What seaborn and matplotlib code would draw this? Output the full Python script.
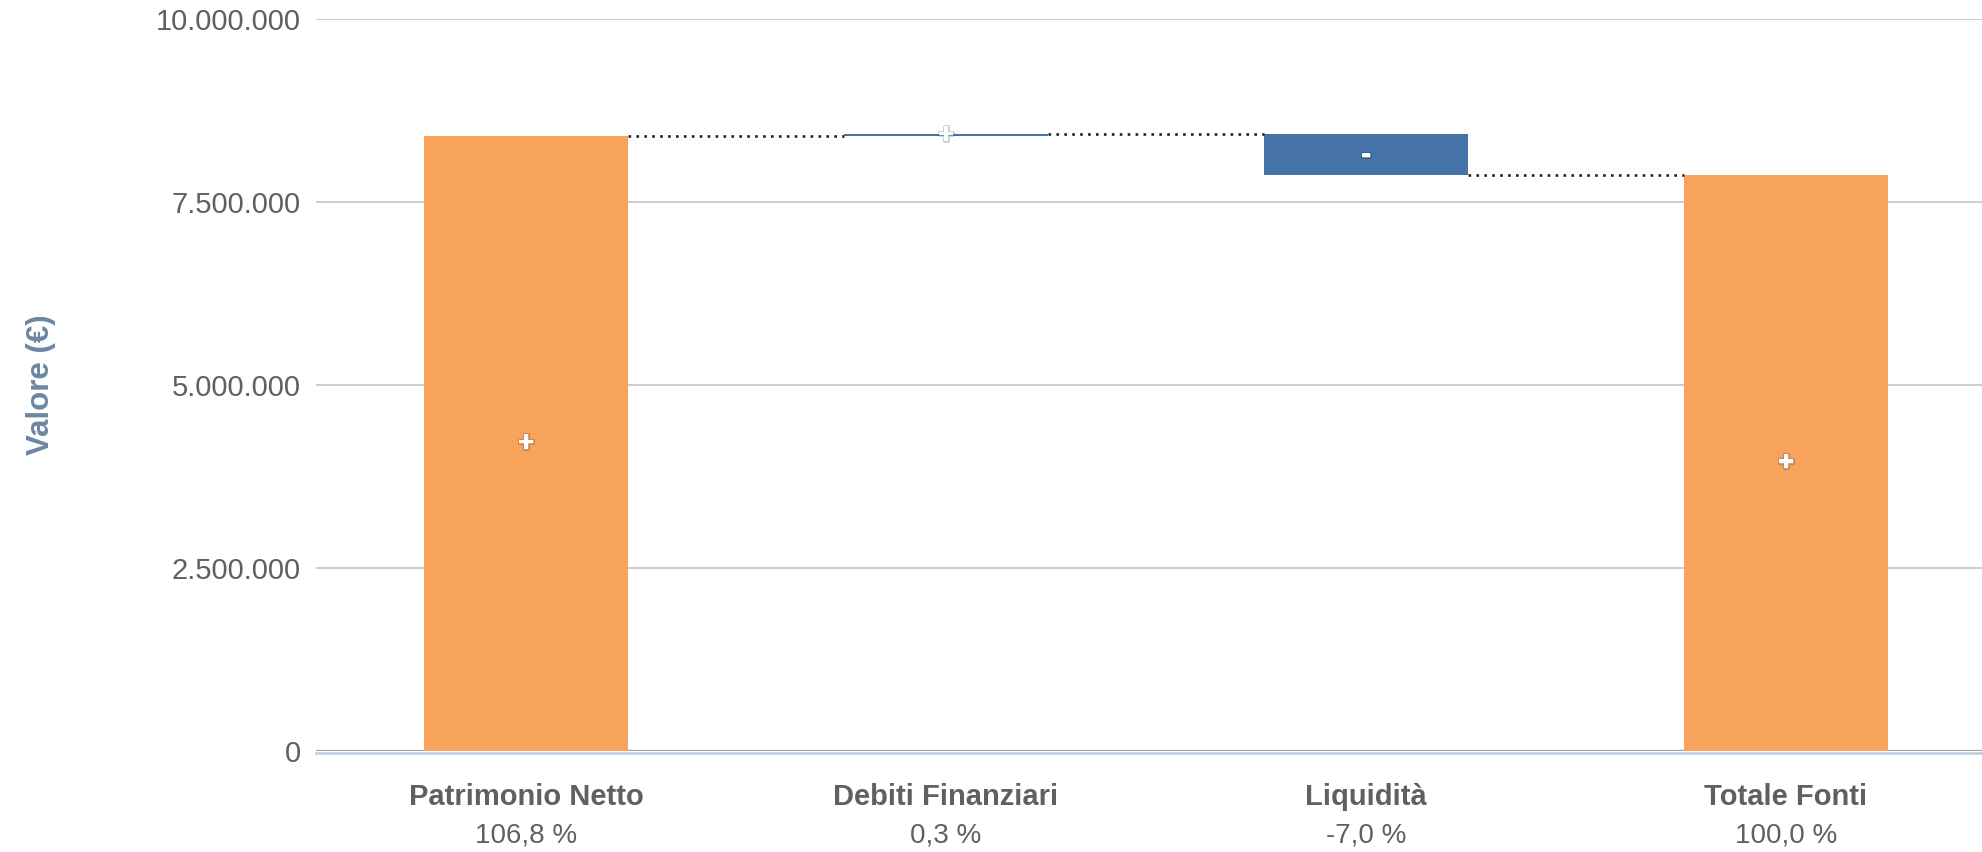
import numpy as np
import pandas as pd
import matplotlib
matplotlib.use("Agg")
import matplotlib.pyplot as plt
import matplotlib.patheffects as pe
import seaborn as sns

categories = ["Patrimonio Netto", "Debiti Finanziari", "Liquidità", "Totale Fonti"]
values = [8400000, 25000, -550000, 7875000]
is_total = [True, False, False, True]
pct_labels = ["106,8 %", "0,3 %", "-7,0 %", "100,0 %"]
sign_labels = ["+", "+", "-", "+"]
y_ticks = [0, 2500000, 5000000, 7500000, 10000000]

ORANGE = "#F7A35C"
BLUE = "#4572A7"

# running totals for the floating bars
bottoms = []
tops = []
running = 0
for v, tot in zip(values, is_total):
    if tot:
        bottoms.append(0)
        running = v
    else:
        bottoms.append(running)
        running = running + v
    tops.append(running)

df = pd.DataFrame({"cat": categories, "val": values})

sns.set_theme(style="white")
plt.rcParams["font.family"] = ["Liberation Sans", "DejaVu Sans"]

fig = plt.figure(figsize=(19.83, 8.52), dpi=100)
ax = fig.add_axes([316 / 1983, 101 / 852, 1680 / 1983, 732 / 852])

sns.barplot(data=df, x="cat", y="val", bottom=bottoms, width=0.486,
            errorbar=None, color=ORANGE, ax=ax, zorder=3, linewidth=0)
for p, tot in zip(ax.patches, is_total):
    p.set_facecolor(ORANGE if tot else BLUE)
    p.set_edgecolor("none")

# dotted connectors
hw = 0.486 / 2
for i in range(len(values) - 1):
    ax.plot([i + hw, i + 1 - hw], [tops[i], tops[i]], color="#222222",
            lw=1.9, linestyle=(0, (1, 2.0)), zorder=4)

# +/- markers in the middle of each bar
for i in range(len(values)):
    mid = bottoms[i] + values[i] / 2
    ax.text(i, mid, sign_labels[i], ha="center", va="center", color="white",
            fontsize=21, fontweight="bold", zorder=5,
            path_effects=[pe.withStroke(linewidth=2, foreground=(0, 0, 0, 0.2))])

ax.set_xlim(-0.5, 3.5)
ax.set_ylim(0, 10000000)
ax.set_yticks(y_ticks)
ax.set_yticklabels([f"{t:,}".replace(",", ".") for t in y_ticks],
                   fontsize=21, color="#606060")
ax.yaxis.grid(True, color="#C0C0C0", lw=1.1, zorder=0)
ax.xaxis.grid(False)
ax.axhline(0, color="#A0A0A0", lw=1.6, zorder=2)
ax.tick_params(axis="y", length=0, pad=11)

ax.set_xticks(np.arange(-0.5, 4.0, 1.0))
ax.set_xticklabels([])
ax.tick_params(axis="x", which="major", length=18, width=1.3, color="#C0D0E0",
               direction="out")

for i in range(len(categories)):
    ax.annotate(categories[i], xy=(i, 0), xycoords=("data", "axes fraction"),
                xytext=(0, -33), textcoords="offset points", ha="center",
                va="center", fontsize=21, fontweight="bold", color="#606060")
    ax.annotate(pct_labels[i], xy=(i, 0), xycoords=("data", "axes fraction"),
                xytext=(0, -61), textcoords="offset points", ha="center",
                va="center", fontsize=20, color="#606060")

for s in ["top", "right", "left"]:
    ax.spines[s].set_visible(False)
ax.spines["bottom"].set_color("#C0D0E0")
ax.spines["bottom"].set_linewidth(2)
ax.spines["bottom"].set_position(("outward", 1.5))

ax.set_xlabel("")
ax.set_ylabel("Valore (€)", fontsize=22.5, fontweight="bold", color="#6D86A1")
ax.yaxis.set_label_coords(-0.155, 0.5)

fig.savefig("out.png", dpi=100)
